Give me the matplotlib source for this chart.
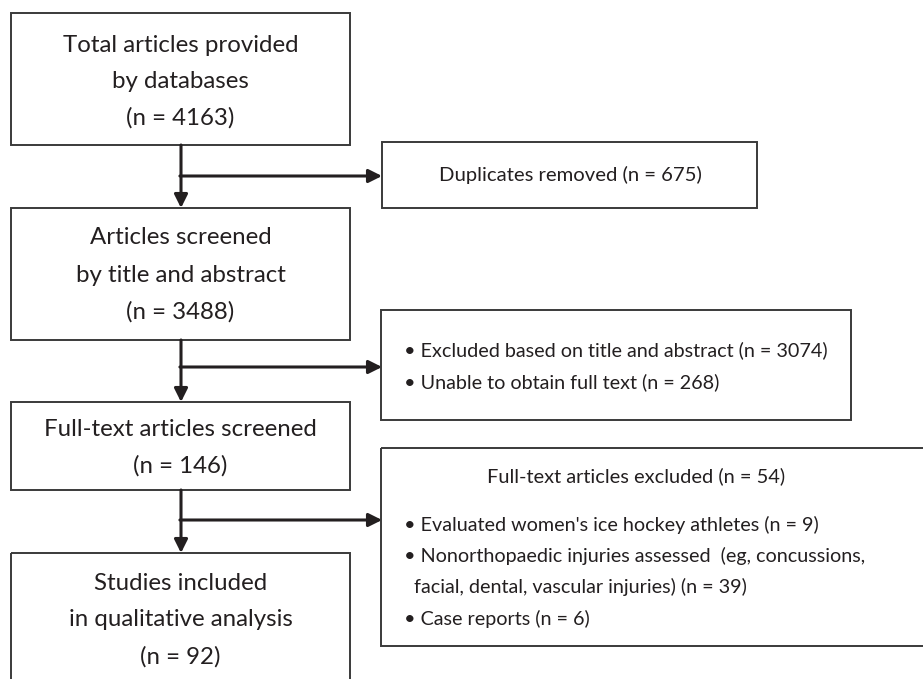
import matplotlib
matplotlib.use("Agg")
import matplotlib.pyplot as plt
from matplotlib.patches import Rectangle

plt.rcParams['font.family'] = ['Lato', 'DejaVu Sans']

# ---- content ----
main_labels = [
    ["Total articles provided", "by databases", "(n = 4163)"],
    ["Articles screened", "by title and abstract", "(n = 3488)"],
    ["Full-text articles screened", "(n = 146)"],
    ["Studies included", "in qualitative analysis", "(n = 92)"],
]
side_dup = "Duplicates removed (n = 675)"
side_excl1 = ["\u2022 Excluded based on title and abstract (n = 3074)",
              "\u2022 Unable to obtain full text (n = 268)"]
side_excl2_header = "Full-text articles excluded (n = 54)"
side_excl2 = ["\u2022 Evaluated women's ice hockey athletes (n = 9)",
              "\u2022 Nonorthopaedic injuries assessed  (eg, concussions,",
              "  facial, dental, vascular injuries) (n = 39)",
              "\u2022 Case reports (n = 6)"]

# ---- layout (pixels) ----
W, H = 923, 679
fig = plt.figure(figsize=(W / 100, H / 100), dpi=100)
ax = fig.add_axes([0, 0, 1, 1])
ax.set_xlim(0, W)
ax.set_ylim(H, 0)
ax.axis('off')

edge = '#3a3a3a'
txt = '#231f20'

main_boxes = [(11, 13, 339, 132), (11, 208, 339, 132), (11, 402, 339, 88), (11, 553, 339, 140)]
main_line_y = [[45, 82, 118], [238, 275, 312], [429, 466], [583, 620, 657]]
for (x, y, w, h), lines, ys in zip(main_boxes, main_labels, main_line_y):
    ax.add_patch(Rectangle((x, y), w, h, fill=False, ec=edge, lw=1.4))
    for t, yy in zip(lines, ys):
        ax.text(x + w / 2, yy, t, ha='center', va='center', fontsize=17.3, color=txt)

# side boxes
ax.add_patch(Rectangle((382, 142), 375, 66, fill=False, ec=edge, lw=1.4))
ax.text(570, 175, side_dup, ha='center', va='center', fontsize=14.6, color=txt)

ax.add_patch(Rectangle((381, 310), 470, 110, fill=False, ec=edge, lw=1.4))
for t, yy in zip(side_excl1, [350, 382]):
    ax.text(404, yy, t, ha='left', va='center', fontsize=14.2, color=txt)

ax.add_patch(Rectangle((381, 448), 600, 198, fill=False, ec=edge, lw=1.4))
ax.text(636, 476, side_excl2_header, ha='center', va='center', fontsize=14.4, color=txt)
for t, yy in zip(side_excl2, [525, 556, 587, 619]):
    ax.text(404, yy, t, ha='left', va='center', fontsize=14.2, color=txt)

# arrows
cx = 181
aprops = dict(arrowstyle='-|>,head_length=0.8,head_width=0.4', lw=2.2, color=txt,
              shrinkA=0, shrinkB=0, mutation_scale=10)
vert = [(145, 208), (340, 402), (490, 553)]
branch_y = [176, 367, 520]
for (y0, y1), by in zip(vert, branch_y):
    ax.annotate('', xy=(cx, y1), xytext=(cx, y0), arrowprops=aprops)
    ax.annotate('', xy=(382, by), xytext=(cx - 1.1, by), arrowprops=aprops)

fig.savefig('out.png', dpi=100)
